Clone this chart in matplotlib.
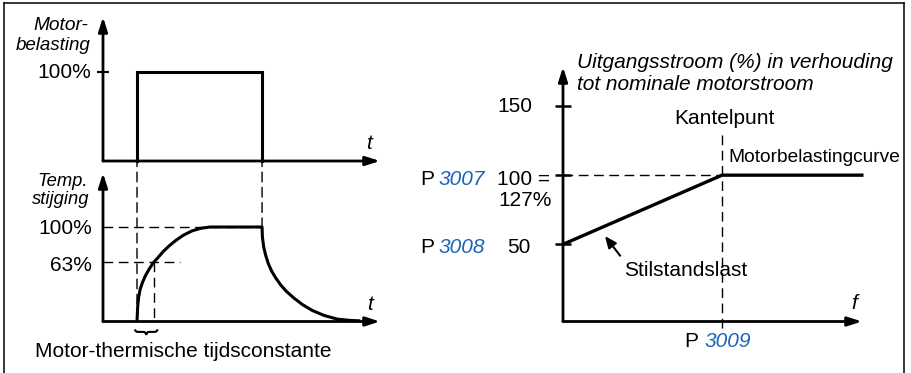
import matplotlib
matplotlib.use("Agg")
import matplotlib.pyplot as plt
from matplotlib.lines import Line2D
from matplotlib.patches import ConnectionPatch, PathPatch
from matplotlib.path import Path

plt.rcParams['font.family'] = ['Liberation Sans', 'DejaVu Sans']

# ---------------------------------------------------------------- data
# Motor load step (time in arbitrary units, load in %)
t_on = 1.03
t_off = 4.82
load_t = [t_on, t_on, t_off, t_off]
load_pct = [0, 100, 100, 0]
load_ticks = [100]
load_ticklabels = ["100%"]

# Temperature rise while loaded
rise_t = [1.03, 1.05, 1.08, 1.13, 1.20, 1.29, 1.40, 1.52, 1.68, 1.83,
          2.01, 2.21, 2.43, 2.69, 2.96, 3.24, 4.82]
rise_pct = [0, 15.2, 25.8, 34.6, 41.7, 48.8, 55.5, 61.9, 68.2, 74.2,
            80.2, 85.9, 91.2, 95.8, 98.6, 100, 100]
# Cooling after the load is removed
decay_t = [4.82, 4.83, 4.87, 4.93, 5.01, 5.11, 5.23, 5.38, 5.56, 5.79,
           6.04, 6.34, 6.70, 7.10, 7.50, 7.80]
decay_pct = [100, 89.4, 78.8, 70.0, 61.2, 53.4, 46.3, 38.9, 31.8, 24.7,
             18.0, 11.7, 6.4, 2.5, 1.1, 0.7]
temp_levels = [100, 63]
temp_labels = ["100%", "63%"]
tau_t = 1.55          # time at which 63 % is reached
level63_end = 2.33    # extent of the 63 % guide line

# Output current limit vs. frequency (f relative to the break point)
curve_f = [0, 1.0, 1.89]
curve_pct = [50, 100, 100]
break_f = 1.0
current_ticks = [50, 100, 150]

FS = 15
BLUE = '#1c63b7'
W, H = 912, 373

fig = plt.figure(figsize=(W / 100, H / 100), dpi=100)


def box(x0, y0, x1, y1):
    return [x0 / W, 1 - y1 / H, (x1 - x0) / W, (y1 - y0) / H]


def ftext(x, y, s, ha='left', size=FS, **kw):
    fig.text(x / W, 1 - y / H, s, ha=ha, va='baseline', fontsize=size, **kw)


def arrow_axes(ax):
    style = '-|>,head_length=0.85,head_width=0.27'
    for end in [(1, 0), (0, 1)]:
        ax.annotate('', xy=end, xytext=(0, 0), xycoords='axes fraction',
                    arrowprops=dict(arrowstyle=style, lw=2, color='k',
                                    shrinkA=0, shrinkB=0, mutation_scale=10),
                    annotation_clip=False)


def clean(ax):
    for sp in ax.spines.values():
        sp.set_visible(False)
    ax.set_xticks([])
    ax.set_yticks([])
    ax.patch.set_alpha(0)


dash = dict(color='k', lw=1.0, linestyle=(0, (7, 4)))

# ---------------------------------------------------------------- motor load
axA = fig.add_axes(box(103, 17, 380, 161))
clean(axA)
axA.set_xlim(0, 277 / 33)
axA.set_ylim(0, 144 / 0.89)
axA.set_yticks(load_ticks)
axA.set_yticklabels([''] * len(load_ticks))
axA.tick_params(axis='y', direction='inout', length=8, width=1.5)
arrow_axes(axA)
axA.plot(load_t, load_pct, color='k', lw=2.2, solid_joinstyle='miter',
         clip_on=False)

# ---------------------------------------------------------------- temperature
axB = fig.add_axes(box(103, 173, 380, 321.5))
clean(axB)
axB.set_xlim(0, 277 / 33)
axB.set_ylim(0, 148.5 / 0.945)
arrow_axes(axB)
axB.plot(rise_t + decay_t, rise_pct + decay_pct, color='k', lw=2.2,
         solid_capstyle='butt', clip_on=False)

axB.plot([0, t_off], [temp_levels[0]] * 2, **dash)
axB.plot([0, level63_end], [temp_levels[1]] * 2, **dash)
axB.plot([tau_t, tau_t], [temp_levels[1], 0], **dash)

for xa, yb in [(t_on, 0), (t_off, temp_levels[0])]:
    cp = ConnectionPatch(xyA=(xa, 0), coordsA=axA.transData,
                         xyB=(xa, yb), coordsB=axB.transData,
                         color='k', lw=1.0, linestyle=(3, (7, 4)))
    fig.add_artist(cp)

# curly brace marking one time constant
bx0, bx1 = t_on - 0.06, tau_t + 0.1
bxc = (bx0 + bx1) / 2
q = 0.09
y_top, y_mid, y_tip = -8.3, -11.0, -14.3
verts = [(bx0, y_top), (bx0, y_mid), (bx0 + q, y_mid), (bxc - q, y_mid),
         (bxc, y_mid), (bxc, y_tip),
         (bxc, y_mid), (bxc + q, y_mid), (bx1 - q, y_mid),
         (bx1, y_mid), (bx1, y_top)]
codes = [Path.MOVETO, Path.CURVE3, Path.CURVE3, Path.LINETO,
         Path.CURVE3, Path.CURVE3,
         Path.CURVE3, Path.CURVE3, Path.LINETO,
         Path.CURVE3, Path.CURVE3]
axB.add_patch(PathPatch(Path(verts, codes), fill=False, lw=1.5,
                        color='k', clip_on=False))

# ---------------------------------------------------------------- current limit
axC = fig.add_axes(box(563, 67, 862, 321.5))
clean(axC)
axC.set_xlim(0, 299 / 159)
axC.set_ylim(-5.8, 178.2)
axC.set_yticks(current_ticks)
axC.set_yticklabels([''] * len(current_ticks))
axC.tick_params(axis='y', direction='inout', length=12, width=1.8)
arrow_axes(axC)
axC.plot(curve_f, curve_pct, color='k', lw=2.4, solid_capstyle='butt',
         clip_on=False)
axC.plot([0, break_f], [100, 100], **dash)
axC.plot([break_f, break_f], [129, -10.5], clip_on=False, **dash)

axC.annotate('Stilstandslast', xy=(0.264, 56.0), xycoords='data',
             xytext=(624 / W, 1 - 275.7 / H), textcoords='figure fraction',
             ha='left', va='baseline', fontsize=FS,
             arrowprops=dict(arrowstyle='-|>,head_length=0.7,head_width=0.3',
                             lw=1.5, color='k', relpos=(0, 1),
                             shrinkA=2, shrinkB=0, mutation_scale=10))

# ---------------------------------------------------------------- labels
ftext(88, 30, 'Motor-', ha='right', size=13.8, style='italic')
ftext(90, 50, 'belasting', ha='right', size=13.5, style='italic')
ftext(91, 78.5, load_ticklabels[0], ha='right')
ftext(366, 149, 't', style='italic')

ftext(88, 185.5, 'Temp.', ha='right', size=13.2, style='italic')
ftext(89, 204, 'stijging', ha='right', size=13.2, style='italic')
ftext(92, 234, temp_labels[0], ha='right')
ftext(92, 271, temp_labels[1], ha='right')
ftext(367, 310, 't', style='italic')
ftext(35, 356.7, 'Motor-thermische tijdsconstante')

ftext(577, 67.7, 'Uitgangsstroom (%) in verhouding', style='italic')
ftext(577, 90, 'tot nominale motorstroom', style='italic')
ftext(532, 111.7, '150', ha='right')
ftext(674, 124, 'Kantelpunt')
ftext(728, 161.7, 'Motorbelastingcurve', size=13.8)
ftext(420, 185, 'P')
ftext(439, 185, '3007', style='italic', color=BLUE)
ftext(497, 185, '100 =')
ftext(498, 206, '127%')
ftext(420, 252.7, 'P')
ftext(439, 252.7, '3008', style='italic', color=BLUE)
ftext(507, 252.7, '50')
ftext(851, 309.3, 'f', style='italic')
ftext(684, 347.3, 'P')
ftext(705, 347.3, '3009', style='italic', color=BLUE)

# ---------------------------------------------------------------- frame
for xs, ys in [([4, 4], [3, H]), ([4, 904], [3, 3]), ([904, 904], [3, H])]:
    fig.add_artist(Line2D([x / W for x in xs], [1 - y / H for y in ys],
                          transform=fig.transFigure, lw=1.1, color='k'))

fig.savefig('out.png', dpi=100)
